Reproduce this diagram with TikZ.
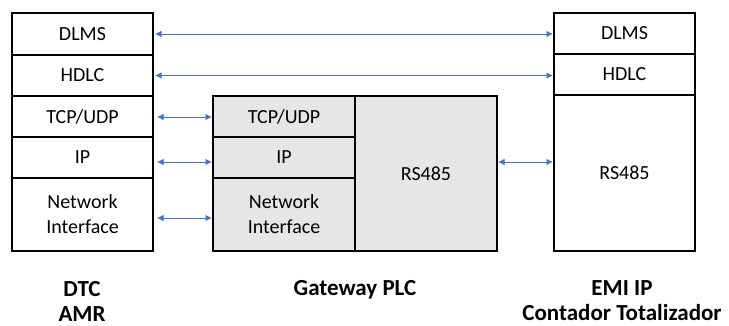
\documentclass[tikz,border=0pt]{standalone}
\usepackage{fontspec}
\setmainfont{Carlito}
\usetikzlibrary{arrows.meta}
\definecolor{arrblue}{HTML}{4472C4}
\definecolor{gwgray}{HTML}{E6E6E6}
\tikzset{
  cell/.style={draw=black, line width=1.1pt, inner sep=0pt, outer sep=0pt, align=center,
    font=\fontsize{20}{25}\selectfont},
  gcell/.style={cell, fill=gwgray},
  arr/.style={draw=arrblue, line width=0.9pt, {Latex[length=6.5pt,width=6.5pt]}-{Latex[length=6.5pt,width=6.5pt]}},
  lbl/.style={font=\fontsize{23}{25}\selectfont\bfseries, align=center, inner sep=0pt}
}
\begin{document}
\begin{tikzpicture}[x=1pt,y=-1pt]
\useasboundingbox (0,0) rectangle (729,325);
% left stack (DTC)
\node[cell, minimum width=141pt, minimum height=42pt] (ldlms) at (82.5,34) {DLMS};
\node[cell, minimum width=141pt, minimum height=41pt] (lhdlc) at (82.5,75.5) {HDLC};
\node[cell, minimum width=141pt, minimum height=41pt] (ltcp) at (82.5,116.5) {TCP/UDP};
\node[cell, minimum width=141pt, minimum height=41pt] (lip) at (82.5,157.5) {IP};
\node[cell, minimum width=141pt, minimum height=73pt] (lni) at (82.5,214.5) {Network\\Interface};
% middle (gateway)
\node[gcell, minimum width=142pt, minimum height=41pt] (mtcp) at (284,116.5) {TCP/UDP};
\node[gcell, minimum width=142pt, minimum height=41pt] (mip) at (284,157.5) {IP};
\node[gcell, minimum width=142pt, minimum height=73pt] (mni) at (284,214.5) {Network\\Interface};
\node[gcell, minimum width=142pt, minimum height=155pt] (mrs) at (426,173.5) {RS485};
% right stack (EMI IP)
\node[cell, minimum width=141pt, minimum height=41pt] (rdlms) at (624.5,33.5) {DLMS};
\node[cell, minimum width=141pt, minimum height=41pt] (rhdlc) at (624.5,74.5) {HDLC};
\node[cell, minimum width=141pt, minimum height=156pt] (rrs) at (624.5,173) {RS485};
% arrows
\draw[arr, shorten <=2pt, shorten >=1pt] (ldlms.east) -- (rdlms.west |- ldlms.east);
\draw[arr, shorten <=2pt, shorten >=1pt] (lhdlc.east) -- (rhdlc.west |- lhdlc.east);
\draw[arr, shorten <=4pt, shorten >=1pt] ([yshift=-0.5pt]ltcp.east) -- ([yshift=-0.5pt]mtcp.west);
\draw[arr, shorten <=4pt, shorten >=1pt] ([yshift=-4.5pt]lip.east) -- ([yshift=-4.5pt]mip.west);
\draw[arr, shorten <=4pt, shorten >=1pt] ([yshift=-3.5pt]lni.east) -- ([yshift=-3.5pt]mni.west);
\draw[arr, shorten <=1pt, shorten >=1pt] ([yshift=11.5pt]mrs.east) -- ([yshift=11pt]rrs.west);
% labels
\node[lbl] (dtc) at (82,301) {DTC\\AMR};
\node[lbl] (gw) at (355,290) {Gateway PLC};
\node[lbl] (emi) at (622,301) {EMI IP\\Contador Totalizador};
\end{tikzpicture}
\end{document}
